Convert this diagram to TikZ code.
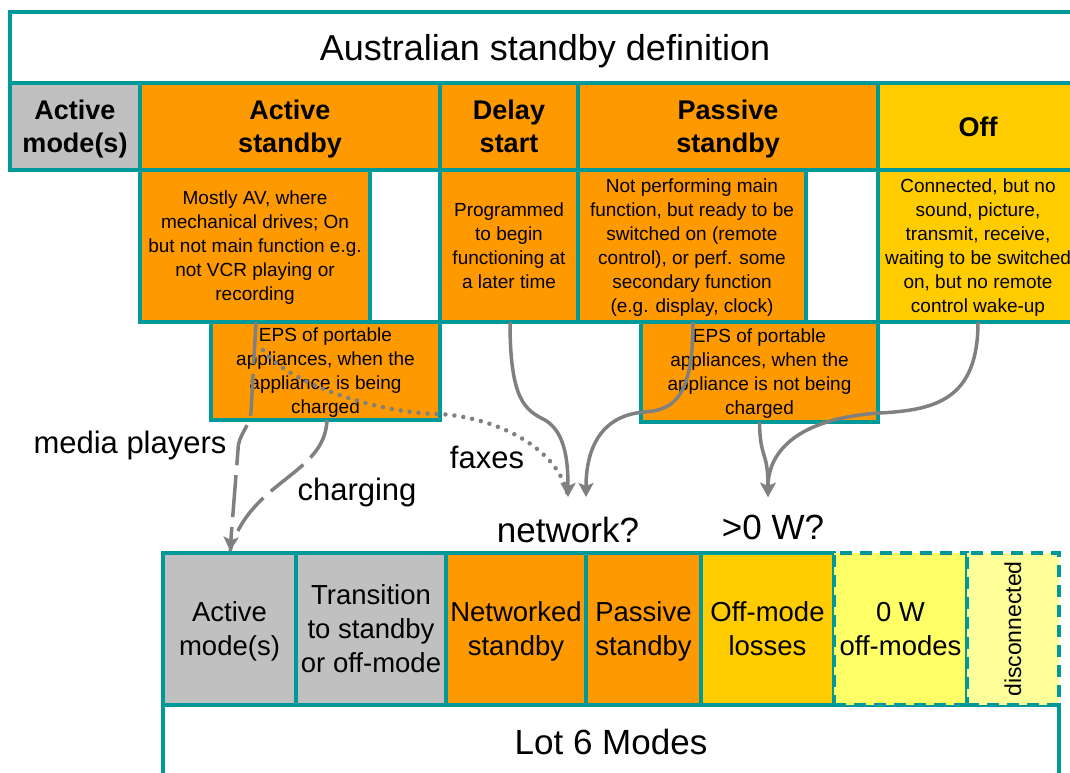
\documentclass[tikz,border=0pt]{standalone}
\usepackage{fontspec}
\setmainfont{Liberation Sans}
\usetikzlibrary{arrows.meta}
\definecolor{bordr}{HTML}{009999}
\definecolor{orng}{HTML}{FF9900}
\definecolor{gold}{HTML}{FFCC00}
\definecolor{lgray}{HTML}{C0C0C0}
\definecolor{yel}{HTML}{FFFF66}
\definecolor{paleyel}{HTML}{FFFF99}
\definecolor{flowgray}{HTML}{808080}
\tikzset{
  cell/.style = {draw=bordr, line width=4pt, anchor=north west,
    outer sep=0pt, inner sep=0pt, align=center},
  hdr/.style = {cell, text depth=-2pt, minimum height=87pt, font=\fontsize{27}{33}\selectfont\bfseries},
  desc/.style = {cell, text depth=-4pt, minimum height=152pt, font=\fontsize{19}{24}\selectfont},
  eps/.style = {desc, fill=orng, minimum height=98pt},
  mode/.style = {cell, text depth=-5pt, minimum height=152pt, font=\fontsize{27.5}{34}\selectfont},
  lbl/.style = {font=\fontsize{31}{36}\selectfont},
  qlbl/.style = {font=\fontsize{35}{40}\selectfont}
}
\tikzset{>={Stealth[length=14pt,width=15pt,inset=3pt]}}
\tikzset{
  flow/.style = {draw=flowgray, line width=3.5pt},
  dashflow/.style = {flow, dash pattern=on 42pt off 10pt},
  dotflow/.style = {flow, line width=4.5pt, line cap=round, dash pattern=on 0pt off 9pt}
}

\begin{document}
\begin{tikzpicture}[x=1pt,y=-1pt]
  \path[use as bounding box, clip] (0,0) rectangle (1070,772);
  \node[cell, text depth=-2pt, minimum width=1070pt, minimum height=71pt,
    font=\fontsize{36}{40}\selectfont] (aus) at (10,12) {Australian standby definition};
  \node[hdr, fill=lgray, minimum width=130pt] (hact) at (10,83) {Active\\mode(s)};
  \node[hdr, fill=orng, minimum width=300pt] (hactsb) at (140,83) {Active\\standby};
  \node[hdr, fill=orng, minimum width=138pt] (hdelay) at (440,83) {Delay\\start};
  \node[hdr, fill=orng, minimum width=300pt] (hpas) at (578,83) {Passive\\standby};
  \node[hdr, text depth=0pt, fill=gold, minimum width=200pt] (hoff) at (878,83) {Off};

  \node[desc, fill=orng, minimum width=230pt] (dactsb) at (140,170)
    {Mostly AV, where\\mechanical drives; On\\but not main function e.g.\\not VCR playing or\\recording};
  \node[desc, fill=orng, minimum width=138pt] (ddelay) at (440,170)
    {Programmed\\to begin\\functioning at\\a later time};
  \node[desc, fill=orng, minimum width=228pt] (dpas) at (578,170)
    {Not performing main\\function, but ready to be\\switched on (remote\\control), or perf. some\\secondary function\\(e.g. display, clock)};
  \node[desc, fill=gold, minimum width=200pt] (doff) at (878,170)
    {Connected, but no\\sound, picture,\\transmit, receive,\\waiting to be switched\\on, but no remote\\control wake-up};
  \node[eps, minimum width=229pt] (eps1) at (211,322)
    {EPS of portable\\appliances, when the\\appliance is being\\charged};
  \node[eps, minimum width=237pt, minimum height=100pt] (eps2) at (641,322)
    {EPS of portable\\appliances, when the\\appliance is not being\\charged};

  \node[cell, minimum width=896pt, minimum height=74pt,
    font=\fontsize{35}{40}\selectfont] (lot6) at (163,705) {Lot 6 Modes};
  \node[mode, fill=lgray, minimum width=133pt] (mact) at (163,553) {Active\\mode(s)};
  \node[mode, fill=lgray, minimum width=150pt] (mtrans) at (296,553) {Transition\\to standby\\or off-mode};
  \node[mode, fill=orng, minimum width=140pt] (mnet) at (446,553) {Networked\\standby};
  \node[mode, fill=orng, minimum width=115pt] (mpas) at (586,553) {Passive\\standby};
  \node[mode, fill=gold, minimum width=133pt] (moffl) at (701,553) {Off-mode\\losses};
  \node[mode, fill=yel, dash pattern=on 12pt off 8pt, minimum width=133pt] (mzero) at (834,553) {0 W\\off-modes};
  \node[mode, fill=paleyel, dash pattern=on 12pt off 8pt, minimum width=92pt] (mdisc) at (967,553) {};
  \node[rotate=90, font=\fontsize{23}{26}\selectfont] (disc) at (mdisc.center) {disconnected};

  \node[qlbl] (net) at (568,530) {network?};
  \node[qlbl] (pw) at (773,527) {>0 W?};
  \node[lbl] (media) at (130,445) {media players};
  \node[lbl] (chg) at (357,492) {charging};
  \node[lbl] (fax) at (487,457) {faxes};

  \coordinate (tnet1) at (568,497);
  \coordinate (tnet2) at (586,497);
  \coordinate (tpw) at (768,497);
  \coordinate (tact) at (230,551);

  \draw[dashflow] ([xshift=116pt]eps1.south west) .. controls (325,475) and (250,480) .. (tact);
  \draw[dashflow,->] ([xshift=45pt]eps1.north west) -- (251,412) to[out=-95,in=90] (238,450) -- (tact);
  \draw[dotflow] ([xshift=52pt,yshift=-28pt]eps1.north west) .. controls (285,380) and (370,413) ..
    ([yshift=6pt]eps1.south east) .. controls (500,418) and (560,450) .. (tnet1);
  \draw[flow,->] ([xshift=70pt]ddelay.south west) .. controls (510,400) and (525,410) .. (545,420)
    .. controls (565,432) and (568,460) .. (tnet1);
  \draw[flow,->] ([xshift=115pt]dpas.south west) .. controls (693,395) and (675,410) .. (645,412)
    .. controls (600,415) and (586,450) .. (tnet2);
  \draw[flow,->] (eps2.south) .. controls (760,460) and (768,450) .. (tpw);
  \draw[flow,->] (doff.south) .. controls (978,400) and (935,410) .. (880,413)
    .. controls (800,418) and (768,450) .. (tpw);
\end{tikzpicture}
\end{document}
